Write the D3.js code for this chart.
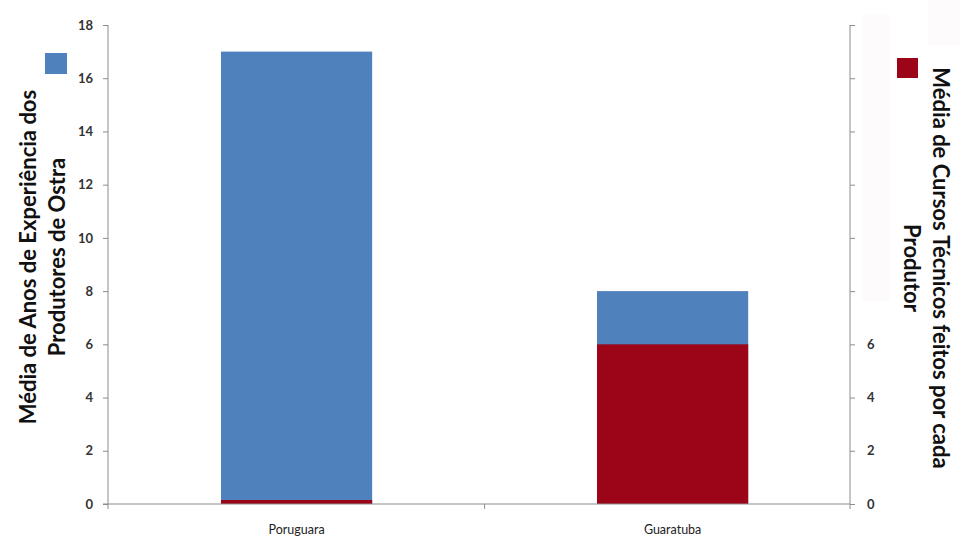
<!DOCTYPE html>
<html>
<head>
<meta charset="utf-8">
<script src="https://cdn.jsdelivr.net/npm/d3@7"></script>
<style>
  body { margin: 0; background: #fff; }
  text { font-family: Lato, "Open Sans", sans-serif; }
</style>
</head>
<body>
<div id="wrapper"></div>
<script>
// DATA
const categories = ["Poruguara", "Guaratuba"]
const anosExperiencia = [17, 8]
const cursosTecnicos = [0.15, 6]
const leftTicks = [0, 2, 4, 6, 8, 10, 12, 14, 16, 18]
const rightLabelled = [0, 2, 4, 6]

// DIMENSIONS
const width = 960, height = 539
const margin = { top: 25, right: 110, bottom: 35, left: 108 }
const boundedWidth = width - margin.left - margin.right
const boundedHeight = height - margin.top - margin.bottom

const svg = d3.select("#wrapper").append("svg")
  .attr("width", width)
  .attr("height", height)

// faint panels behind the titles (they hide the upper right labels in the original)
svg.append("rect").attr("x", 862).attr("y", 14).attr("width", 28).attr("height", 287).attr("fill", "#fdfbfb")
svg.append("rect").attr("x", 928).attr("y", 0).attr("width", 32).attr("height", 45).attr("fill", "#fdfbfb")

const bounds = svg.append("g")
  .attr("transform", `translate(${margin.left},${margin.top})`)

// SCALES
const xScale = d3.scaleBand()
  .domain(categories)
  .range([0, boundedWidth])
  .paddingInner(0.598)
  .paddingOuter(0.2856)
  .align(0.526)

const yScale = d3.scaleLinear().domain([0, 18]).range([boundedHeight, 0])
const y2Scale = d3.scaleLinear().domain([0, 18]).range([boundedHeight, 0])

// BARS
bounds.selectAll(".bar-anos").data(categories).join("rect")
  .attr("class", "bar-anos")
  .attr("x", d => xScale(d))
  .attr("width", xScale.bandwidth())
  .attr("y", (d, i) => yScale(anosExperiencia[i]))
  .attr("height", (d, i) => boundedHeight - yScale(anosExperiencia[i]))
  .attr("fill", "#4f81bd")

bounds.selectAll(".bar-cursos").data(categories).join("rect")
  .attr("class", "bar-cursos")
  .attr("x", d => xScale(d))
  .attr("width", xScale.bandwidth())
  .attr("y", (d, i) => y2Scale(cursosTecnicos[i]))
  .attr("height", (d, i) => boundedHeight - y2Scale(cursosTecnicos[i]))
  .attr("fill", "#9c0517")

// AXES
const axisColor = "#8c8c8c"

const leftAxis = bounds.append("g")
  .call(d3.axisLeft(yScale).tickValues(leftTicks).tickSize(5).tickPadding(10))
leftAxis.select(".domain").attr("stroke", axisColor).attr("d", `M0,0V${boundedHeight + 5}`)

const rightAxis = bounds.append("g")
  .attr("transform", `translate(${boundedWidth},0)`)
  .call(d3.axisRight(y2Scale).tickValues(leftTicks).tickSize(5).tickPadding(12)
    .tickFormat(d => rightLabelled.includes(d) ? d : ""))
rightAxis.select(".domain").attr("stroke", axisColor).attr("d", `M0,0V${boundedHeight + 5}`)

const baseline = bounds.append("g")
  .attr("transform", `translate(0,${boundedHeight})`)
baseline.append("line")
  .attr("x1", -5).attr("x2", boundedWidth)
  .attr("stroke", axisColor)
const mid = (xScale(categories[0]) + xScale(categories[1]) + xScale.bandwidth()) / 2
baseline.append("line")
  .attr("x1", mid).attr("x2", mid)
  .attr("y1", 0).attr("y2", 5)
  .attr("stroke", axisColor)
baseline.selectAll(".cat").data(categories).join("text")
  .attr("x", d => xScale(d) + xScale.bandwidth() / 2)
  .attr("y", 30)
  .attr("text-anchor", "middle")
  .attr("font-size", 12.5)
  .attr("fill", "#222")
  .text(d => d)

bounds.selectAll(".tick line").attr("stroke", axisColor)
bounds.selectAll(".tick text")
  .attr("font-size", 13)
  .attr("font-weight", "bold")
  .attr("fill", "#333")

// TITLES
const leftTitle = svg.append("text")
  .attr("transform", "translate(0,257) rotate(-90)")
  .attr("text-anchor", "middle")
  .attr("font-size", 22)
  .attr("font-weight", "bold")
  .attr("fill", "#111")
leftTitle.append("tspan").attr("x", 0).attr("y", 36).text("Média de Anos de Experiência dos")
leftTitle.append("tspan").attr("x", 0).attr("y", 65).text("Produtores de Ostra")

const rightTitle = svg.append("text")
  .attr("transform", "translate(960,268) rotate(90)")
  .attr("text-anchor", "middle")
  .attr("font-size", 22)
  .attr("font-weight", "bold")
  .attr("fill", "#111")
rightTitle.append("tspan").attr("x", 0).attr("y", 27).text("Média de Cursos Técnicos feitos por cada")
rightTitle.append("tspan").attr("x", 0).attr("y", 56).text("Produtor")

// LEGEND SQUARES
svg.append("rect").attr("x", 45).attr("y", 53).attr("width", 22).attr("height", 21).attr("fill", "#4f81bd")
svg.append("rect").attr("x", 897).attr("y", 58).attr("width", 21).attr("height", 20).attr("fill", "#9c0517")
</script>
</body>
</html>
